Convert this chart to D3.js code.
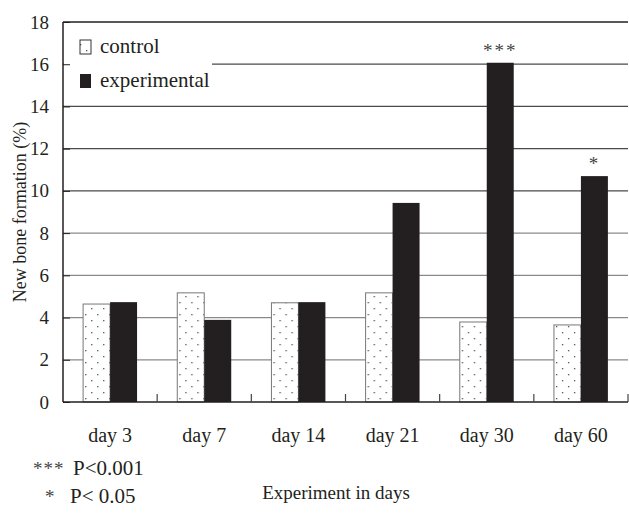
<!DOCTYPE html>
<html>
<head>
<meta charset="utf-8">
<script src="https://cdn.jsdelivr.net/npm/d3@7"></script>
<style>
  body { margin: 0; background: #fff; }
  svg text { font-family: "Liberation Serif", "Times New Roman", serif; }
</style>
</head>
<body>
<div id="chart"></div>
<script>
'use strict';

// data
const days = ['day 3', 'day 7', 'day 14', 'day 21', 'day 30', 'day 60'];
const series = ['control', 'experimental'];
const control = [4.64, 5.17, 4.70, 5.17, 3.79, 3.65];
const experimental = [4.73, 3.89, 4.73, 9.43, 16.07, 10.70];
const marks = ['', '', '', '', '***', '*'];
const yTicks = [0, 2, 4, 6, 8, 10, 12, 14, 16, 18];
const notes = [['***', 'P<0.001'], ['*', 'P< 0.05']];

const width = 629, height = 515;
const margin = {top: 22, right: 1, bottom: 113, left: 63};
const serif = '"Liberation Serif", "Times New Roman", serif';

const svg = d3.select('#chart').append('svg')
    .attr('width', width)
    .attr('height', height)
    .attr('font-family', serif);

// dotted fill for the control bars
const pat = svg.append('defs').append('pattern')
    .attr('id', 'dots')
    .attr('patternUnits', 'userSpaceOnUse')
    .attr('width', 12).attr('height', 12);
pat.append('rect').attr('width', 12).attr('height', 12).attr('fill', '#fff');
pat.append('rect').attr('x', 2).attr('y', 2).attr('width', 1.3).attr('height', 1.3).attr('fill', '#555');
pat.append('rect').attr('x', 8).attr('y', 8).attr('width', 1.3).attr('height', 1.3).attr('fill', '#555');

const x = d3.scaleBand()
    .domain(days)
    .range([margin.left, width - margin.right])
    .paddingInner(0.427)
    .paddingOuter(0.2135);

const xs = d3.scaleBand()
    .domain(series)
    .range([0, x.bandwidth()]);

const y = d3.scaleLinear()
    .domain([0, 18])
    .range([height - margin.bottom, margin.top]);

const x0 = margin.left, x1 = width - margin.right;

// gridlines
svg.append('g').selectAll('line')
    .data(yTicks.filter(d => d > 0 && d < 18))
    .enter().append('line')
    .attr('x1', x0).attr('x2', x1)
    .attr('y1', d => y(d)).attr('y2', d => y(d))
    .style('stroke', d => d > 8 ? '#4a4a4a' : '#8a8a8a')
    .style('stroke-width', 1.3);

// bars
const groups = svg.append('g').selectAll('g')
    .data(days)
    .enter().append('g')
    .attr('transform', d => 'translate(' + x(d) + ',0)');

groups.append('rect')
    .attr('x', xs('control'))
    .attr('width', xs.bandwidth())
    .attr('y', (d, i) => y(control[i]))
    .attr('height', (d, i) => y(0) - y(control[i]))
    .style('fill', 'url(#dots)')
    .style('stroke', '#777')
    .style('stroke-width', 1);

groups.append('rect')
    .attr('x', xs('experimental'))
    .attr('width', xs.bandwidth())
    .attr('y', (d, i) => y(experimental[i]))
    .attr('height', (d, i) => y(0) - y(experimental[i]))
    .style('fill', '#231f20');

groups.append('text')
    .text((d, i) => marks[i])
    .attr('x', xs('experimental') + xs.bandwidth() / 2)
    .attr('y', (d, i) => y(experimental[i]) - 6)
    .style('text-anchor', 'middle')
    .style('font-size', '19px')
    .style('letter-spacing', '2px')
    .style('fill', '#444');

// legend, white box hides the gridline behind it
const legend = svg.append('g');
legend.append('rect')
    .attr('x', x0 + 1).attr('y', margin.top + 2)
    .attr('width', 148).attr('height', 74)
    .style('fill', '#fff');

legend.append('rect')
    .attr('x', 80).attr('y', 40).attr('width', 11).attr('height', 14)
    .style('fill', 'url(#dots)').style('stroke', '#333').style('stroke-width', 1);
legend.append('rect')
    .attr('x', 80).attr('y', 74).attr('width', 11).attr('height', 14)
    .style('fill', '#231f20');

legend.selectAll('text')
    .data(series)
    .enter().append('text')
    .text(d => d)
    .attr('x', 100)
    .attr('y', (d, i) => 53 + i * 34)
    .style('font-size', '21px')
    .style('fill', '#231f20');

// axes
const axisColor = '#231f20';

const yAxis = svg.append('g')
    .attr('transform', 'translate(' + x0 + ',0)')
    .call(d3.axisLeft(y).tickValues(yTicks).tickSize(-7).tickPadding(14));
yAxis.attr('font-family', serif);
yAxis.select('.domain').remove();
yAxis.selectAll('line').style('stroke', axisColor);
yAxis.selectAll('text')
    .style('font-size', '19px')
    .style('fill', axisColor);

svg.append('line')
    .attr('x1', x0).attr('x2', x0)
    .attr('y1', y(18)).attr('y2', y(0))
    .style('stroke', axisColor).style('stroke-width', 1.5);
svg.append('line')
    .attr('x1', x0).attr('x2', x1)
    .attr('y1', y(18)).attr('y2', y(18))
    .style('stroke', axisColor).style('stroke-width', 1.3);
svg.append('line')
    .attr('x1', x0).attr('x2', x1)
    .attr('y1', y(0)).attr('y2', y(0))
    .style('stroke', axisColor).style('stroke-width', 1.5);

// category separators on the x axis
svg.append('g').selectAll('line')
    .data(days)
    .enter().append('line')
    .attr('x1', d => x(d) + x.step() - x.step() * 0.2135)
    .attr('x2', d => x(d) + x.step() - x.step() * 0.2135)
    .attr('y1', y(0)).attr('y2', y(0) - 8)
    .style('stroke', '#444').style('stroke-width', 1.2);

svg.append('g').selectAll('text')
    .data(days)
    .enter().append('text')
    .text(d => d)
    .attr('x', d => x(d) + x.bandwidth() / 2)
    .attr('y', 442)
    .style('text-anchor', 'middle')
    .style('font-size', '20px')
    .style('fill', axisColor);

// axis titles
svg.append('text')
    .text('Experiment in days')
    .attr('x', 336)
    .attr('y', 499)
    .style('text-anchor', 'middle')
    .style('font-size', '19px')
    .style('fill', axisColor);

svg.append('text')
    .text('New bone formation (%)')
    .attr('transform', 'translate(26,' + y(9) + ') rotate(-90)')
    .style('text-anchor', 'middle')
    .style('font-size', '18px')
    .style('fill', axisColor);

// significance notes
const noteG = svg.append('g').selectAll('g')
    .data(notes)
    .enter().append('g');
noteG.append('text')
    .text(d => d[0])
    .attr('x', (d, i) => i === 0 ? 33 : 45)
    .attr('y', (d, i) => 475 + i * 28)
    .style('font-size', '19px')
    .style('letter-spacing', '1px')
    .style('fill', '#444');
noteG.append('text')
    .text(d => d[1])
    .attr('x', (d, i) => i === 0 ? 73 : 70)
    .attr('y', (d, i) => 475 + i * 28)
    .style('font-size', '21px')
    .style('fill', axisColor);
</script>
</body>
</html>
